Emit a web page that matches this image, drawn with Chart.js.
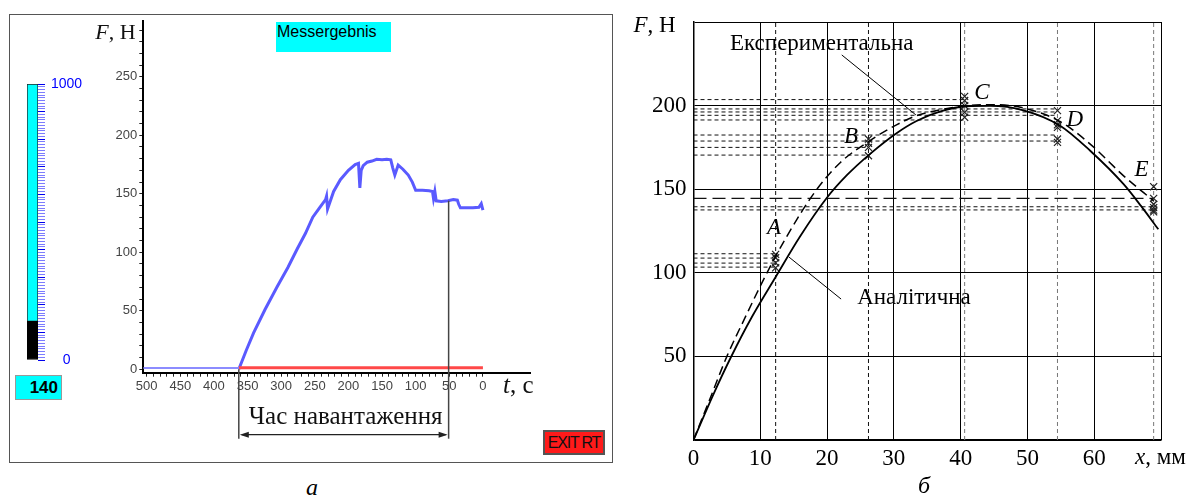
<!DOCTYPE html>
<html>
<head>
<meta charset="utf-8">
<script src="https://cdn.jsdelivr.net/npm/chart.js@4.4.1/dist/chart.umd.min.js"></script>
<style>
  html, body { margin: 0; padding: 0; background: #fff; }
  #page { position: relative; width: 1187px; height: 503px; overflow: hidden; }
  canvas, .box { position: absolute; }
  #frameA { left: 9px; top: 14px; width: 604px; height: 449px; border: 1.5px solid #555; box-sizing: border-box; position: absolute; }
  #messBox { left: 276px; top: 22px; width: 115px; height: 30px; background: #00ffff;
             font: 16px 'Liberation Sans', sans-serif; line-height: 20px; padding-left: 1px; box-sizing: border-box; }
  #gaugeBox { left: 15px; top: 375px; width: 47px; height: 25px; background: #00ffff; border: 1px solid #999;
              box-sizing: border-box; font: bold 17px 'Liberation Sans', sans-serif; text-align: right;
              padding-right: 3px; line-height: 23px; }
  #exitBtn { left: 543px; top: 430px; width: 62px; height: 25px; background: #ff1a1a; border: 2px solid #555;
             box-sizing: border-box; font: 16px 'Liberation Sans', sans-serif; letter-spacing: -1.2px;
             text-align: center; line-height: 21px; color: #111; white-space: nowrap; }
  .cap { font: italic 24px 'Liberation Serif', serif; }
</style>
</head>
<body>
<div id="page">
  <div id="frameA"></div>
  <div id="messBox" class="box">Messergebnis</div>
  <div id="gaugeBox" class="box"></div>
  <div id="exitBtn" class="box">EXIT RT</div>
  <canvas id="gauge" width="110" height="320" style="left:0;top:60px;width:110px;height:320px"></canvas>
  <canvas id="chartA" width="620" height="470" style="left:0;top:0;width:620px;height:470px"></canvas>
  <canvas id="chartB" width="567" height="503" style="left:620px;top:0;width:567px;height:503px"></canvas>
  <div class="box cap" style="left:306px;top:474px">а</div>
  <div class="box cap" style="left:918px;top:472px">б</div>
</div>
<script>
// ---- panel a: gauge ----
const gaugeMax = 1000;
const gaugeValue = 140;

// ---- panel a: force over time (t counts down to 0) ----
const tIdle = [505, 363];
const fIdle = [1, 1];
const tForce = [363, 352, 341, 324, 306, 290, 276, 264, 253, 243, 234, 232.5, 231, 222, 212, 200, 190, 185, 183, 181,
                178, 172, 165, 158, 150, 143, 137, 134, 131, 126, 119, 111, 105, 100, 90, 80, 75, 73.5, 71.5, 69.5,
                62, 52, 44, 38, 36, 33.5, 25, 15, 6, 2.5, 0];
const fForce = [0, 16, 31, 51, 70.5, 87, 103, 116, 130, 138, 145, 148, 137, 152, 162, 170, 175, 176, 155, 170,
                174, 177, 178, 179.5, 179, 179.5, 179, 172, 166, 174.5, 171, 166, 160, 153, 153, 152.5, 152, 146, 152, 144,
                143.5, 144, 145, 144.5, 141, 138, 138, 138, 138.5, 141.5, 136];
const tRed = [363, 0];
const fRed = [1.3, 1.3];
const loadStart = 363;
const loadEnd = 51;

// ---- panel b: force vs displacement ----
const xAnal = [0, 3, 5.6, 8.8, 12.3, 16, 20, 23, 26.4, 30.4, 33.4, 37, 40.9, 44.4, 49.4, 54.9, 59.4, 64.4, 67, 69.6];
const fAnal = [0, 27.5, 49.5, 74, 97.5, 122, 145, 158.5, 171, 183.5, 190.8, 196.5, 199.6, 199.8, 197.2, 188, 173, 153, 140, 126];
const xExp = [0, 2.5, 5, 7.7, 11, 14, 18.3, 22, 26.2, 30.4, 33.4, 37, 41, 45, 49.4, 54.9, 59.4, 64.4, 68.9];
const fExp = [0, 25, 50, 73, 100, 122, 149, 166, 178.5, 188.5, 194, 197.5, 200, 200.5, 198.6, 190.4, 177, 158, 143];

const pointNames = ['A', 'B', 'C', 'D', 'E'];
const pointX = [12.3, 26.2, 40.6, 54.5, 68.9];
const markA = [111, 109, 106, 103];
const markB = [180, 177.5, 175, 170];
const markC = [205.5, 203, 200, 196, 193];
const markD = [197, 191, 188.5, 187, 180, 178];
const markE = [151.5, 144.5, 141, 139, 137.5, 136.5];

const guideF  = [203.6, 198, 196.2, 194.2, 191.4, 182.4, 178.8, 175, 170.4, 139.5, 137.6, 111.4, 108.8, 105.8, 103.4];
const guideTo = ['C', 'D', 'D', 'D', 'C', 'D', 'D', 'B', 'B', 'E', 'E', 'A', 'A', 'A', 'A'];
const guideLongF = [144.5];
const guideLongTo = ['E'];

const xy = (xs, ys) => xs.map((v, i) => ({ x: v, y: ys[i] }));

function line(ctx, x1, y1, x2, y2) {
    ctx.beginPath();
    ctx.moveTo(x1, y1);
    ctx.lineTo(x2, y2);
    ctx.stroke();
}

// draw text made of italic / upright parts
function mixedText(ctx, parts, x, y, size) {
    ctx.textBaseline = 'middle';
    ctx.textAlign = 'left';
    parts.forEach(p => {
        ctx.font = (p.i ? 'italic ' : '') + size + "px 'Liberation Serif'";
        ctx.fillText(p.t, x, y);
        x += ctx.measureText(p.t).width;
    });
}

function valueAt(ts, fs, t) {
    for (let i = 0; i < ts.length - 1; i++) {
        if ((ts[i] - t) * (ts[i + 1] - t) <= 0) {
            const k = (t - ts[i]) / (ts[i + 1] - ts[i]);
            return fs[i] + k * (fs[i + 1] - fs[i]);
        }
    }
    return fs[fs.length - 1];
}

// ---- gauge ----
document.getElementById('gaugeBox').textContent = gaugeValue;
new Chart(document.getElementById('gauge'), {
    type: 'bar',
    data: {
        labels: [''],
        datasets: [
            { data: [gaugeValue], backgroundColor: '#000', borderColor: '#000', borderWidth: 1, borderSkipped: false,
              barPercentage: 1, categoryPercentage: 1 },
            { data: [gaugeMax - gaugeValue], backgroundColor: '#00ffff', borderColor: '#222', borderWidth: 1, borderSkipped: false,
              barPercentage: 1, categoryPercentage: 1 }
        ]
    },
    options: {
        responsive: false,
        animation: false,
        layout: { padding: { left: 27, top: 24, bottom: 20, right: 0 } },
        plugins: { legend: { display: false }, tooltip: { enabled: false } },
        scales: {
            x: { stacked: true, display: false },
            y: {
                stacked: true, position: 'right', min: 0, max: gaugeMax,
                afterFit: s => { s.width = 72; },
                border: { display: false },
                grid: {
                    drawOnChartArea: false, tickLength: 7, tickWidth: 1,
                    tickColor: c => (c.tick && c.tick.value % 100 === 0) ? '#0000ee' : '#7c7cff'
                },
                ticks: {
                    stepSize: 10, autoSkip: false, includeBounds: false, padding: 6, crossAlign: 'center',
                    color: '#0000ff', font: { family: 'Liberation Sans', size: 14 },
                    callback: v => (v === 0 || v === gaugeMax) ? String(v) : ''
                }
            }
        }
    }
});

// ---- panel a decorations ----
const leftDecor = {
    id: 'leftDecor',
    afterDatasetsDraw(chart) {
        const { ctx, chartArea, scales: { x, y } } = chart;
        const xs = x.getPixelForValue(loadStart);
        const xe = x.getPixelForValue(loadEnd);
        const yBase = chartArea.bottom + 66;
        const yArr = chartArea.bottom + 62;
        ctx.save();
        ctx.strokeStyle = '#444';
        ctx.lineWidth = 1.5;
        line(ctx, xs, y.getPixelForValue(0), xs, yBase);
        line(ctx, xe, y.getPixelForValue(valueAt(tForce, fForce, loadEnd)), xe, yBase);
        ctx.strokeStyle = '#222';
        ctx.lineWidth = 1.3;
        line(ctx, xs + 3, yArr, xe - 3, yArr);
        ctx.fillStyle = '#222';
        [[xs + 1, 1], [xe - 1, -1]].forEach(([ax, d]) => {
            ctx.beginPath();
            ctx.moveTo(ax, yArr);
            ctx.lineTo(ax + 9 * d, yArr - 3);
            ctx.lineTo(ax + 9 * d, yArr + 3);
            ctx.closePath();
            ctx.fill();
        });
        ctx.fillStyle = '#111';
        ctx.font = "25px 'Liberation Serif'";
        ctx.textAlign = 'center';
        ctx.textBaseline = 'middle';
        ctx.fillText('Час навантаження', (xs + xe) / 2 + 2, chartArea.bottom + 45);
        mixedText(ctx, [{ t: 'F', i: true }, { t: ', Н' }], chartArea.left - 48, chartArea.top + 13, 22);
        mixedText(ctx, [{ t: 't', i: true }, { t: ', с' }], chartArea.right - 27, chartArea.bottom + 14, 25);
        ctx.restore();
    }
};

new Chart(document.getElementById('chartA'), {
    type: 'scatter',
    data: {
        datasets: [
            { data: xy(tIdle, fIdle), showLine: true, borderColor: '#8c8cff', borderWidth: 2, pointRadius: 0 },
            { data: xy(tRed, fRed), showLine: true, borderColor: '#ff4848', borderWidth: 3, pointRadius: 0 },
            { data: xy(tForce, fForce), showLine: true, borderColor: '#5a5aff', borderWidth: 3, pointRadius: 0, tension: 0 }
        ]
    },
    options: {
        responsive: false,
        animation: false,
        layout: { padding: { left: 0, top: 20.7, right: 90, bottom: 0 } },
        plugins: { legend: { display: false }, tooltip: { enabled: false } },
        scales: {
            x: {
                type: 'linear', reverse: true, min: -70, max: 505,
                afterFit: s => { s.height = 97.3; },
                border: { color: '#000', width: 2 },
                grid: {
                    drawOnChartArea: false, tickLength: 4,
                    tickColor: c => (c.tick && c.tick.value < 0) ? 'rgba(0,0,0,0)' : '#222'
                },
                ticks: {
                    stepSize: 10, autoSkip: false, includeBounds: false, maxRotation: 0, padding: 2,
                    color: '#444', font: { family: 'Liberation Sans', size: 13 },
                    callback: v => (v >= 0 && v % 50 === 0) ? String(v) : ''
                }
            },
            y: {
                min: -3, max: 298,
                afterFit: s => { s.width = 143.3; },
                border: { color: '#000', width: 2 },
                grid: { drawOnChartArea: false, tickLength: 4, tickColor: '#222' },
                ticks: {
                    stepSize: 10, autoSkip: false, includeBounds: false, padding: 2,
                    color: '#444', font: { family: 'Liberation Sans', size: 13 },
                    callback: v => (v >= 0 && v <= 250 && v % 50 === 0) ? String(v) : ''
                }
            }
        }
    },
    plugins: [leftDecor]
});

// ---- panel b decorations ----
const rightDecor = {
    id: 'rightDecor',
    beforeDatasetsDraw(chart) {
        const { ctx, scales: { x, y } } = chart;
        const endX = name => x.getPixelForValue(pointX[pointNames.indexOf(name)]);
        ctx.save();
        ctx.lineWidth = 1;
        ctx.setLineDash([4, 3]);
        pointX.forEach((px, i) => {
            ctx.strokeStyle = i < 2 ? '#111' : '#777';
            const xp = x.getPixelForValue(px);
            line(ctx, xp, y.getPixelForValue(0), xp, y.getPixelForValue(250));
        });
        ctx.strokeStyle = '#111';
        guideF.forEach((f, i) => {
            const yp = y.getPixelForValue(f);
            line(ctx, x.getPixelForValue(0), yp, endX(guideTo[i]), yp);
        });
        ctx.setLineDash([13, 6]);
        ctx.lineWidth = 1.2;
        guideLongF.forEach((f, i) => {
            const yp = y.getPixelForValue(f);
            line(ctx, x.getPixelForValue(0), yp, endX(guideLongTo[i]), yp);
        });
        ctx.restore();
    },
    afterDatasetsDraw(chart) {
        const { ctx, chartArea, scales: { x, y } } = chart;
        const P = (a, b) => [x.getPixelForValue(a), y.getPixelForValue(b)];
        ctx.save();
        ctx.fillStyle = '#000';
        ctx.strokeStyle = '#000';
        ctx.lineWidth = 1;
        // point letters
        const labelAt = [[12.05, 126.8], [23.6, 181.2], [43.2, 207.5], [57.1, 191.4], [67.1, 161.5]];
        ctx.font = "italic 23px 'Liberation Serif'";
        ctx.textAlign = 'center';
        ctx.textBaseline = 'middle';
        pointNames.forEach((n, i) => {
            const [px, py] = P(labelAt[i][0], labelAt[i][1]);
            ctx.fillText(n, px, py);
        });
        // curve captions with leader lines
        ctx.font = "23px 'Liberation Serif'";
        ctx.textAlign = 'left';
        let [tx, ty] = P(5.46, 236.8);
        ctx.fillText('Експериментальна', tx, ty);
        let a = P(22.2, 230.3), b = P(33.3, 194.4);
        line(ctx, a[0], a[1], b[0], b[1]);
        [tx, ty] = P(24.5, 84.9);
        ctx.fillText('Аналітична', tx, ty);
        a = P(14.3, 109.4); b = P(22.1, 84.3);
        line(ctx, a[0], a[1], b[0], b[1]);
        // axis titles
        mixedText(ctx, [{ t: 'F', i: true }, { t: ', Н' }], chartArea.left - 60, chartArea.top + 4, 23);
        mixedText(ctx, [{ t: 'x', i: true }, { t: ', мм' }], chartArea.right - 26, chartArea.bottom + 18, 23);
        ctx.restore();
    }
};

const markData = []
    .concat(markA.map(v => ({ x: pointX[0], y: v })))
    .concat(markB.map(v => ({ x: pointX[1], y: v })))
    .concat(markC.map(v => ({ x: pointX[2], y: v })))
    .concat(markD.map(v => ({ x: pointX[3], y: v })))
    .concat(markE.map(v => ({ x: pointX[4], y: v })));

new Chart(document.getElementById('chartB'), {
    type: 'scatter',
    data: {
        datasets: [
            { label: 'Аналітична', data: xy(xAnal, fAnal), showLine: true, borderColor: '#000', borderWidth: 1.8,
              pointRadius: 0, cubicInterpolationMode: 'monotone' },
            { label: 'Експериментальна', data: xy(xExp, fExp), showLine: true, borderColor: '#000', borderWidth: 1.5,
              borderDash: [9, 5], pointRadius: 0, cubicInterpolationMode: 'monotone' },
            { label: 'Вимірювання', data: markData, pointStyle: 'crossRot', pointRadius: 5, borderColor: '#222',
              borderWidth: 1.2, backgroundColor: 'rgba(0,0,0,0)' }
        ]
    },
    options: {
        responsive: false,
        animation: false,
        layout: { padding: { left: 0, top: 22, right: 26, bottom: 0 } },
        plugins: { legend: { display: false }, tooltip: { enabled: false } },
        scales: {
            x: {
                type: 'linear', min: 0, max: 70,
                afterFit: s => { s.height = 63; },
                border: { color: '#000', width: 1.5 },
                grid: { color: '#000', lineWidth: 1, drawTicks: false },
                ticks: {
                    stepSize: 10, padding: 5, maxRotation: 0, color: '#000',
                    font: { family: 'Liberation Serif', size: 23 },
                    callback: v => v <= 60 ? String(v) : ''
                }
            },
            y: {
                min: 0, max: 250,
                afterFit: s => { s.width = 73.5; },
                border: { color: '#000', width: 1.5 },
                grid: { color: '#000', lineWidth: 1, drawTicks: false },
                ticks: {
                    stepSize: 50, padding: 7, color: '#000',
                    font: { family: 'Liberation Serif', size: 23 },
                    callback: v => (v > 0 && v < 250) ? String(v) : ''
                }
            }
        }
    },
    plugins: [rightDecor]
});
</script>
</body>
</html>
